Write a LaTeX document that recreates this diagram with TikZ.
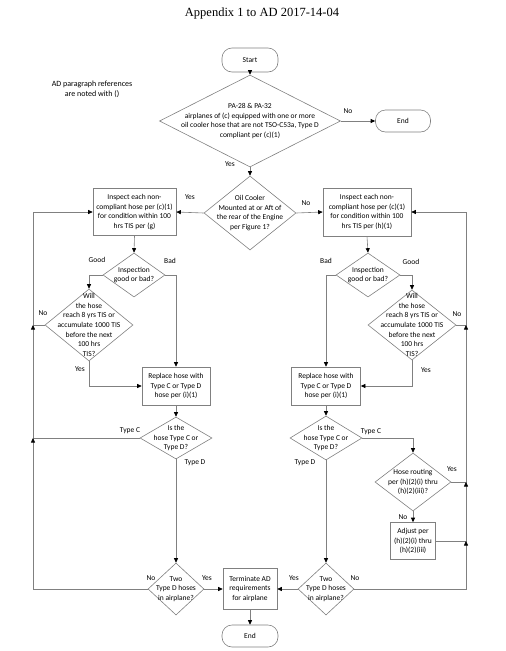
\documentclass[tikz,border=0pt]{standalone}
\usepackage{fontspec}
\setmainfont{Carlito}
\newfontfamily\titlefont{Liberation Serif}
\usetikzlibrary{arrows.meta, shapes.geometric, positioning}

\begin{document}
\begin{tikzpicture}[
    x=1pt, y=-1pt,
    >={Triangle[length=4.5pt, width=4pt, color=black]},
    conn/.style={draw=black!50, line width=0.6pt, ->},
    txt/.style={align=center, font=\fontsize{7.5}{9.6}\selectfont, inner sep=0pt, text=black},
    lbl/.style={font=\fontsize{7.5}{9}\selectfont, inner sep=0pt, text=black},
    box/.style={rectangle, draw=black!50, line width=0.6pt, txt},
    term/.style={rectangle, rounded corners=10pt, draw=black!50, line width=0.6pt, txt},
    dia/.style={diamond, draw=black!50, line width=0.6pt, inner sep=0pt}
]
    \useasboundingbox (0,0) rectangle (506,651);

    % Nodes ------------------------------------------------------

    \node[font=\titlefont\fontsize{12.5}{14}\selectfont] (title) at (262,13) {Appendix 1 to AD 2017-14-04};
    \node[txt, font=\fontsize{8}{10}\selectfont] (note) at (92,89) {AD paragraph references\\are noted with ()};

    \node[term, minimum width=56pt, minimum height=24pt] (start) at (250,60) {Start};
    \node[dia, minimum width=181pt, minimum height=92pt,
        label={[txt]center:PA-28 \& PA-32\\airplanes of (c) equipped with one or more\\oil cooler hose that are not TSO-C53a, Type D\\compliant per (c)(1)}] (dPA) at (250,121) {};
    \node[term, minimum width=55pt, minimum height=22pt] (end1) at (403,121) {End};
    \node[dia, minimum width=92pt, minimum height=74pt,
        label={[txt]center:Oil Cooler\\Mounted at or Aft of\\the rear of the Engine\\per Figure 1?}] (dOil) at (250,213) {};

    % left branch
    \node[box, minimum width=83pt, minimum height=47pt] (inspL) at (134.5,212) {Inspect each non-\\compliant hose per (c)(1)\\for condition within 100\\hrs TIS per (g)};
    \node[dia, minimum width=62pt, minimum height=44pt,
        label={[txt]center:Inspection\\good or bad?}] (goodL) at (134,275) {};
    \node[dia, minimum width=88pt, minimum height=72pt,
        label={[txt]center:Will\\the hose\\reach 8 yrs TIS or\\accumulate 1000 TIS\\before the next\\100 hrs\\TIS?}] (willL) at (89,325) {};
    \node[box, minimum width=68pt, minimum height=38pt] (replL) at (176,386) {Replace hose with\\Type C or Type D\\hose per (i)(1)};
    \node[dia, minimum width=72pt, minimum height=42pt,
        label={[txt]center:Is the\\hose Type C or\\Type D?}] (typeL) at (176,438) {};
    \node[dia, minimum width=56pt, minimum height=52pt,
        label={[txt]center:Two\\Type D hoses\\in airplane?}] (twoL) at (176,589) {};

    % right branch
    \node[box, minimum width=88pt, minimum height=48pt] (inspR) at (367,212) {Inspect each non-\\compliant hose per (c)(1)\\for condition within 100\\hrs TIS per (h)(1)};
    \node[dia, minimum width=64pt, minimum height=44pt,
        label={[txt]center:Inspection\\good or bad?}] (goodR) at (368,275) {};
    \node[dia, minimum width=88pt, minimum height=70pt,
        label={[txt]center:Will\\the hose\\reach 8 yrs TIS or\\accumulate 1000 TIS\\before the next\\100 hrs\\TIS?}] (willR) at (412,325) {};
    \node[box, minimum width=69pt, minimum height=38pt] (replR) at (326,386) {Replace hose with\\Type C or Type D\\hose per (i)(1)};
    \node[dia, minimum width=72pt, minimum height=44pt,
        label={[txt]center:Is the\\hose Type C or\\Type D?}] (typeR) at (326,438) {};
    \node[dia, minimum width=76pt, minimum height=58pt,
        label={[txt]center:Hose routing\\per (h)(2)(i) thru\\(h)(2)(iii)?}] (hose) at (413,482) {};
    \node[box, minimum width=45pt, minimum height=37pt] (adj) at (413,541) {Adjust per\\(h)(2)(i) thru\\(h)(2)(iii)};
    \node[dia, minimum width=56pt, minimum height=52pt,
        label={[txt]center:Two\\Type D hoses\\in airplane?}] (twoR) at (326,589) {};

    % bottom
    \node[box, minimum width=54pt, minimum height=41pt] (term) at (250,589) {Terminate AD\\requirements\\for airplane};
    \node[term, minimum width=56pt, minimum height=22pt] (end2) at (250,636) {End};

    % return lines
    \coordinate (backL) at (33,212);
    \coordinate (backR) at (466,212);

    % labels
    \node[lbl] (yPA) at (230,164) {Yes};
    \node[lbl] (nPA) at (348,111) {No};
    \node[lbl] (yOil) at (190,197) {Yes};
    \node[lbl] (nOil) at (306,203) {No};
    \node[lbl] (gL) at (97,260) {Good};
    \node[lbl] (bL) at (170,261) {Bad};
    \node[lbl] (bR) at (326,261) {Bad};
    \node[lbl] (gR) at (411,262) {Good};
    \node[lbl] (nWillL) at (43,313) {No};
    \node[lbl] (yWillL) at (80,369) {Yes};
    \node[lbl] (nWillR) at (457,314) {No};
    \node[lbl] (yWillR) at (426,370) {Yes};
    \node[lbl] (cL) at (130,431) {Type C};
    \node[lbl] (dL) at (195,463) {Type D};
    \node[lbl] (cR) at (371,432) {Type C};
    \node[lbl] (dR) at (305,463) {Type D};
    \node[lbl] (yHose) at (452,469) {Yes};
    \node[lbl] (nHose) at (403,517) {No};
    \node[lbl] (nTwoL) at (151,578) {No};
    \node[lbl] (yTwoL) at (207,578) {Yes};
    \node[lbl] (yTwoR) at (294,578) {Yes};
    \node[lbl] (nTwoR) at (355,578) {No};

    % Arrows ---------------------------------------------------

    \draw[conn] (start) -- (dPA);
    \draw[conn] (dPA.east) -- (end1.west);
    \draw[conn] (dPA.south) -- (dOil.north);
    \draw[conn] (dOil.west) -- (inspL.east);
    \draw[conn] (dOil.east) -- (inspR.west);

    % left branch
    \draw[conn] (inspL.south) -- (goodL.north);
    \draw[conn] (goodL.west) -| (willL.north);
    \draw[conn] (goodL.east) -| (replL.north);
    \draw[conn] (willL.south) |- (replL.west);
    \draw[conn] (willL.west) -- (willL.west -| backL) |- (inspL.west);
    \draw[conn] (replL.south) -- (typeL.north);
    \draw[conn] (typeL.west) -- (typeL.west -| backL) -- (willL.west -| backL);
    \draw[conn] (typeL.south) -- (twoL.north);
    \draw[conn] (twoL.west) -- (twoL.west -| backL) -- (typeL.west -| backL);
    \draw[conn] (twoL.east) -- (term.west);

    % right branch
    \draw[conn] (inspR.south) -- (goodR.north);
    \draw[conn] (goodR.west) -| (replR.north);
    \draw[conn] (goodR.east) -| (willR.north);
    \draw[conn] (willR.south) |- (replR.east);
    \draw[conn] (willR.east) -- (willR.east -| backR) |- (inspR.east);
    \draw[conn] (replR.south) -- (typeR.north);
    \draw[conn] (typeR.east) -| (hose.north);
    \draw[conn] (typeR.south) -- (twoR.north);
    \draw[conn] (hose.south) -- (adj.north);
    \draw[conn] (hose.east) -- (hose.east -| backR) -- (willR.east -| backR);
    \draw[conn] (adj.east) -- (adj.east -| backR) -- (hose.east -| backR);
    \draw[conn] (twoR.east) -- (twoR.east -| backR) -- (adj.east -| backR);
    \draw[conn] (twoR.west) -- (term.east);

    \draw[conn] (term.south) -- (end2.north);

\end{tikzpicture}
\end{document}
